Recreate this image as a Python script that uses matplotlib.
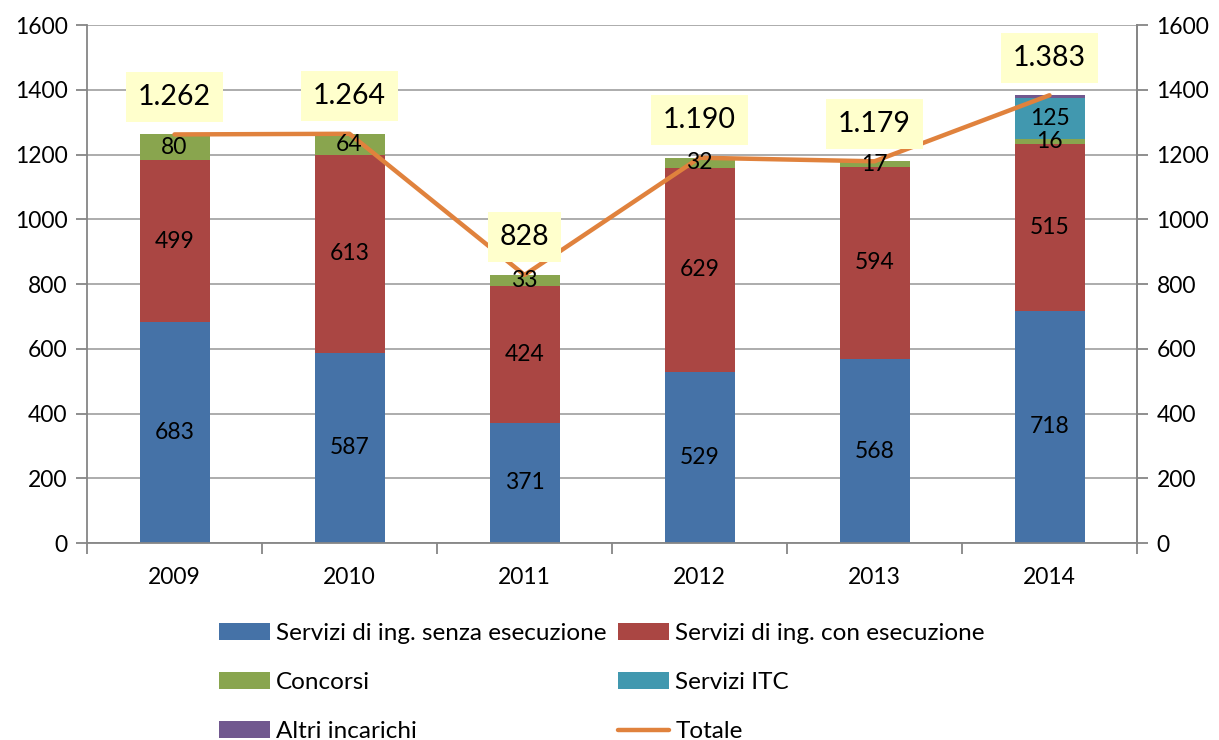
import matplotlib
matplotlib.use("Agg")
import matplotlib.pyplot as plt
import numpy as np

years = ["2009", "2010", "2011", "2012", "2013", "2014"]
senza = [683, 587, 371, 529, 568, 718]
con = [499, 613, 424, 629, 594, 515]
concorsi = [80, 64, 33, 32, 17, 16]
itc = [0, 0, 0, 0, 0, 125]
altri = [0, 0, 0, 0, 0, 9]
totale = [1262, 1264, 828, 1190, 1179, 1383]
totale_labels = ["1.262", "1.264", "828", "1.190", "1.179", "1.383"]

series_names = ["Servizi di ing. senza esecuzione", "Servizi di ing. con esecuzione",
                "Concorsi", "Servizi ITC", "Altri incarichi"]
colors = ["#4572A7", "#AA4643", "#89A54E", "#4198AF", "#71588F"]
line_color = "#E0823D"

plt.rcParams['font.family'] = ['Lato', 'DejaVu Sans']

fig = plt.figure(figsize=(12.19, 7.40), dpi=100)
ax = fig.add_axes([87/1219, 1-543/740, 1050/1219, 518/740])

x = np.arange(len(years))
grid_c = "#A6A6A6"
ax.set_ylim(0, 1600)
ax.set_xlim(-0.5, len(years)-0.5)
ax.set_yticks(range(0, 1601, 200))
ax.grid(axis='y', color=grid_c, linewidth=1.3, zorder=0)
ax.set_axisbelow(True)

FS = 16.5
data = [senza, con, concorsi, itc, altri]
bottom = np.zeros(len(years))
handles = []
for i, (vals, name, c) in enumerate(zip(data, series_names, colors)):
    vals = np.array(vals, dtype=float)
    b = ax.bar(x, vals, 0.4, bottom=bottom, color=c, label=name, zorder=2)
    handles.append(b)
    if i < 4:
        for xi, v, bt in zip(x, vals, bottom):
            if v > 0:
                ax.text(xi, bt + v/2, f"{int(v)}", ha='center', va='center',
                        fontsize=FS, color='black', zorder=5)
    bottom += vals

ln, = ax.plot(x, totale, color=line_color, linewidth=3.2, solid_capstyle='round',
              zorder=4, label="Totale")
for xi, t, lab in zip(x, totale, totale_labels):
    ax.annotate(lab, (xi, t), xytext=(0, 27), textcoords='offset points',
                ha='center', va='center', fontsize=20.5, zorder=6,
                bbox=dict(boxstyle='square,pad=0.42', fc='#FFFFCC', ec='none'))

for s in ['top']:
    ax.spines[s].set_visible(False)
for s in ['left', 'right', 'bottom']:
    ax.spines[s].set_color('#868686')
    ax.spines[s].set_linewidth(1.3)

ax.tick_params(axis='y', direction='out', length=8, width=1.3, color='#868686',
               labelsize=FS, pad=6)
ax.set_xticks(x)
ax.set_xticklabels(years, fontsize=FS)
ax.tick_params(axis='x', length=0, pad=17)
ax.set_xticks(np.arange(-0.5, len(years)), minor=True)
ax.tick_params(axis='x', which='minor', direction='out', length=8, width=1.3, color='#868686')

ax2 = ax.twinx()
ax2.set_ylim(0, 1600)
ax2.set_yticks(range(0, 1601, 200))
ax2.tick_params(axis='y', direction='out', length=8, width=1.3, color='#868686',
                labelsize=FS, pad=6)
for s in ['top', 'left', 'bottom']:
    ax2.spines[s].set_visible(False)
ax2.spines['right'].set_color('#868686')
ax2.spines['right'].set_linewidth(1.3)

order = [handles[0], handles[2], handles[4], handles[1], handles[3], ln]
labels = [series_names[0], series_names[2], series_names[4], series_names[1], series_names[3], "Totale"]
fig.legend(order, labels, ncol=2, loc='upper left', bbox_to_anchor=(207/1219, 1-611/740),
           frameon=False, fontsize=17.5, handlelength=2.1, handleheight=0.7,
           columnspacing=0.47, labelspacing=1.15, handletextpad=0.25, borderpad=0)

fig.savefig("out.png", dpi=100)
